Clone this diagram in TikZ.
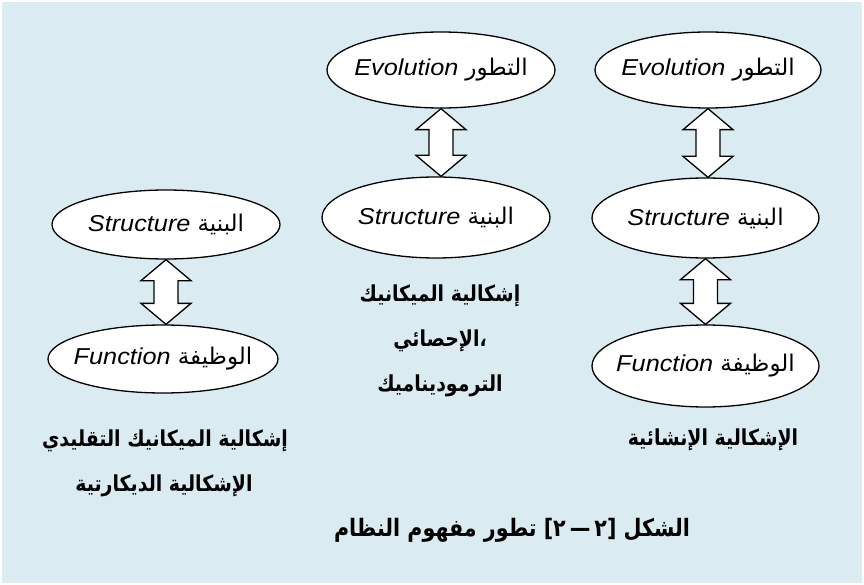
\documentclass[tikz,border=0pt]{standalone}
\usepackage{fontspec}
\setmainfont{Liberation Sans}[FakeStretch=1.1]
\newfontfamily\arabicfont[Script=Arabic]{DejaVu Sans}
\newfontfamily\arabiclbl[Script=Arabic,FakeStretch=0.86]{DejaVu Sans}
\TeXXeTstate=1
\usetikzlibrary{shapes.geometric,calc}
\definecolor{bgblue}{RGB}{218,236,242}
\newcommand{\ar}[1]{{\arabicfont\beginR #1\endR}}
\newcommand{\twoway}[2]{%
  \draw[dblarrow] let \p1=(#1.south), \p2=(#2.north) in
    (\x1,\y1) -- (\x1+25bp,\y1-21bp) -- (\x1+12bp,\y1-21bp) -- (\x1+12bp,\y2+21bp)
    -- (\x1+25bp,\y2+21bp) -- (\x1,\y2) -- (\x1-25bp,\y2+21bp) -- (\x1-12bp,\y2+21bp)
    -- (\x1-12bp,\y1-21bp) -- (\x1-25bp,\y1-21bp) -- cycle;}
\tikzset{
  oval/.style={ellipse, draw, line width=1.3bp, fill=white, inner sep=0pt},
  ovtext/.style={inner sep=0pt, font=\fontsize{23bp}{27bp}\selectfont},
  lbl/.style={font=\fontsize{22bp}{26bp}\selectfont\arabiclbl\bfseries, inner sep=0pt},
  caplbl/.style={lbl, font=\fontsize{24bp}{28bp}\selectfont\arabiclbl\bfseries},
  dblarrow/.style={draw, line width=1.3bp, fill=white, line join=miter},
}
\begin{document}
\begin{tikzpicture}[x=1bp,y=-1bp]
\useasboundingbox (0,0) rectangle (864,585);
\fill[bgblue] (2,2) rectangle (862,583);

\node[oval, minimum width=228bp, minimum height=76bp] (e2) at (441,70) {};
\node[ovtext] (e2t) at (e2.center) {\textit{Evolution} \ar{التطور}};
\node[oval, minimum width=226bp, minimum height=76bp] (e3) at (708,70) {};
\node[ovtext] (e3t) at (e3.center) {\textit{Evolution} \ar{التطور}};

\node[oval, minimum width=228bp, minimum height=69bp] (s1) at (166,224.5) {};
\node[ovtext] (s1t) at (s1.center) {\textit{Structure} \ar{البنية}};
\node[oval, minimum width=228bp, minimum height=81bp] (s2) at (436,217.5) {};
\node[ovtext] (s2t) at (s2.center) {\textit{Structure} \ar{البنية}};
\node[oval, minimum width=227bp, minimum height=80bp] (s3) at (705.5,218) {};
\node[ovtext] (s3t) at (s3.center) {\textit{Structure} \ar{البنية}};

\node[oval, minimum width=230bp, minimum height=68bp] (f1) at (163,359) {};
\node[ovtext] (f1t) at (f1.center) {\textit{Function} \ar{الوظيفة}};
\node[oval, minimum width=227bp, minimum height=82bp] (f3) at (705.5,366) {};
\node[ovtext] (f3t) at (f3.center) {\textit{Function} \ar{الوظيفة}};

\twoway{e2}{s2}
\twoway{e3}{s3}
\twoway{s1}{f1}
\twoway{s3}{f3}

\node[lbl] (m1) at (440,296) {\beginR إشكالية الميكانيك\endR};
\node[lbl] (m2) at (440,341) {\beginR الإحصائي\endR{}،};
\node[lbl] (m3) at (440,386) {\beginR الترموديناميك\endR};

\node[lbl] (r1) at (713,440) {\beginR الإشكالية الإنشائية\endR};

\node[lbl] (l1) at (165,441) {\beginR إشكالية الميكانيك التقليدي\endR};
\node[lbl] (l2) at (164,486) {\beginR الإشكالية الديكارتية\endR};

\node[caplbl] (cap) at (512,530) {\beginR الشكل [٢\,—\,٢] تطور مفهوم النظام\endR};
\end{tikzpicture}
\end{document}
